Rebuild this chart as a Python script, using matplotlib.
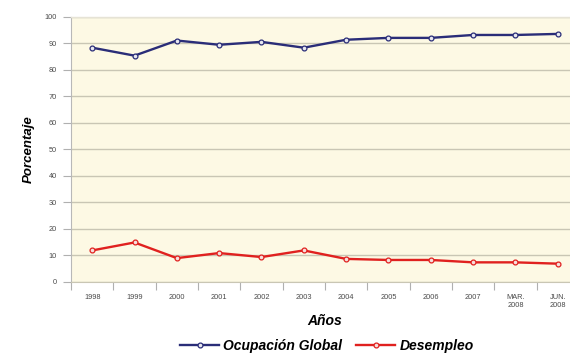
import matplotlib
matplotlib.use('Agg')
import matplotlib.pyplot as plt
import numpy as np

plt.rcParams['font.family'] = ['Liberation Sans', 'DejaVu Sans']

# Data
periodos = ['1998', '1999', '2000', '2001', '2002', '2003', '2004',
            '2005', '2006', '2007', 'MAR.\n2008', 'JUN.\n2008']
ocupacion = [88.3, 85.3, 91.0, 89.4, 90.5, 88.3, 91.3, 92.0, 92.0, 93.1, 93.1, 93.5]
desempleo = [11.8, 14.8, 8.9, 10.8, 9.3, 11.8, 8.6, 8.2, 8.2, 7.3, 7.3, 6.8]
y_ticks = list(range(0, 101, 10))

fig = plt.figure(figsize=(5.7, 3.55), dpi=100)
ax = fig.add_axes([0.1246, 0.2065, 0.891, 0.7465])
ax.set_facecolor('#fdf9e4')

x = np.arange(len(periodos))
ax.plot(x, ocupacion, color='#2a2d78', lw=1.7, marker='o', ms=3.5,
        mfc='#e8e8f0', mec='#2a2d78', mew=0.9, label='Ocupación Global', zorder=3)
ax.plot(x, desempleo, color='#e0211f', lw=1.7, marker='o', ms=3.5,
        mfc='#f6e0dc', mec='#e0211f', mew=0.9, label='Desempleo', zorder=3)

ax.set_xlim(-0.5, len(periodos) - 0.5)
ax.set_ylim(0, 100)
ax.set_yticks(y_ticks)
ax.grid(axis='y', color='#c9c6b4', lw=1.0)
ax.set_axisbelow(True)

# category labels at centres, tick marks on the boundaries
ax.set_xticks(x)
ax.set_xticklabels(periodos, fontsize=5.3, color='#4a4a4a', linespacing=1.1)
ax.set_xticks(np.arange(-0.5, len(periodos)), minor=True)
ax.tick_params(axis='x', which='major', length=0, pad=9)
ax.tick_params(axis='x', which='minor', length=6, width=0.8, color='#b0b0b0')
ax.tick_params(axis='y', length=6, width=0.8, color='#b0b0b0',
               labelsize=5.3, labelcolor='#4a4a4a', pad=4)

for side in ['top', 'right']:
    ax.spines[side].set_color('#e6e3d6')
    ax.spines[side].set_linewidth(1.0)
ax.spines['left'].set_color('#b8b8b8')
ax.spines['bottom'].set_color('#c9c6b4')

ax.set_ylabel('Porcentaje', fontsize=9.5, fontweight='bold', style='italic', labelpad=7)
ax.set_xlabel('Años', fontsize=10, fontweight='bold', style='italic', labelpad=4)

fig.legend(*ax.get_legend_handles_labels(), loc='center',
           bbox_to_anchor=(327 / 570, 1 - 346 / 355), ncol=2, frameon=False,
           prop={'size': 10, 'weight': 'bold', 'style': 'italic'},
           handlelength=2.8, columnspacing=1.0, handletextpad=0.3,
           borderpad=0, borderaxespad=0)

fig.savefig('out.png', dpi=100)
